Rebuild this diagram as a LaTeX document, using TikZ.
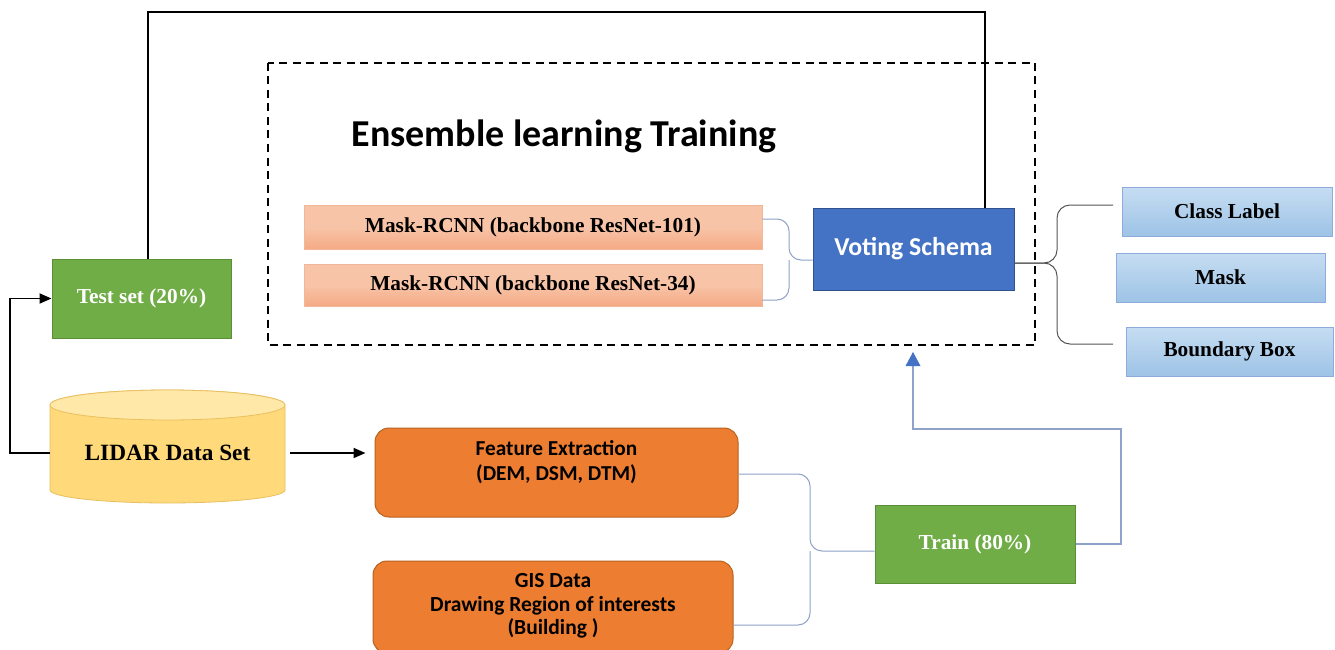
\documentclass[tikz,border=0pt]{standalone}
\usepackage{fontspec}
\setmainfont{Liberation Serif}
\newfontfamily\calfont{Carlito}
\usetikzlibrary{arrows.meta}
\definecolor{grn}{HTML}{70AD47}
\definecolor{grnb}{HTML}{5A8F38}
\definecolor{org}{HTML}{ED7D31}
\definecolor{orgb}{HTML}{B8621F}
\definecolor{vblue}{HTML}{4472C4}
\definecolor{vblueb}{HTML}{2F528F}
\definecolor{salt}{HTML}{F8C4A8}
\definecolor{salb}{HTML}{F4AA84}
\definecolor{salbd}{HTML}{F0B898}
\definecolor{lbt}{HTML}{C6DDF2}
\definecolor{lbb}{HTML}{9DC3E6}
\definecolor{lbbd}{HTML}{8FAADC}
\definecolor{cyl}{HTML}{FFD97A}
\definecolor{cyltop}{HTML}{FFE8A8}
\definecolor{cylb}{HTML}{E8C060}
\definecolor{conn}{HTML}{8FA2C8}
\definecolor{outc}{HTML}{555555}
\tikzset{
  x=1pt,y=-1pt,
  serifbold/.style={font=\fontsize{21.3}{24}\selectfont\bfseries},
  greenbox/.style={draw=grnb, line width=1pt, fill=grn, text=white, serifbold, minimum width=#1, minimum height=79pt, inner sep=0pt},
  maskbox/.style={draw=salbd, line width=0.6pt, top color=salt, bottom color=salb, middle color=salt, serifbold, minimum width=458pt, minimum height=#1, inner sep=0pt},
  outbox/.style={draw=lbbd, line width=0.8pt, top color=lbt, bottom color=lbb, serifbold, minimum height=49pt, inner sep=0pt, minimum width=#1},
  orangebox/.style={draw=orgb, line width=1pt, fill=org, rounded corners=14pt, minimum height=89pt, minimum width=#1, inner sep=0pt},
  bracket/.style={conn, line width=1pt, rounded corners=12pt},
  outline/.style={outc, line width=1pt, rounded corners=13pt},
  blackarrow/.style={black, line width=1.8pt, -{Triangle[length=12pt,width=10pt]}},
}
\begin{document}
\begin{tikzpicture}
\useasboundingbox (0,0) rectangle (1335,650);
\fill[white] (0,0) rectangle (1335,650);
\begin{scope}
\clip (0,0) rectangle (1335,650);
% dashed box
\draw[black, line width=1.6pt, dash pattern=on 8pt off 5.5pt] (268,63) rectangle (1035,345);
\node[anchor=center, font=\calfont\fontsize{38}{40}\selectfont\bfseries] (title) at (564,136) {Ensemble learning Training};

% mask boxes
\node[maskbox=44pt] (m1) at (533,227) {Mask-RCNN (backbone ResNet-101)};
\node[maskbox=42pt] (m2) at (533,285) {Mask-RCNN (backbone ResNet-34)};
% voting
\node[draw=vblueb, line width=1pt, fill=vblue, text=white, minimum width=201pt, minimum height=82pt, inner sep=0pt, font=\calfont\fontsize{25.8}{28}\selectfont\bfseries] (vote) at (913.5,249) {Voting Schema};

% outputs
\node[outbox=210pt] (cls) at (1227,211.5) {Class Label};
\node[outbox=209pt] (msk) at (1220.5,277.5) {Mask};
\node[outbox=207pt] (bb) at (1229.5,351.5) {Boundary Box};

% test set
\node[greenbox=179pt] (test) at (141.5,298.5) {Test set (20\%)};
% train
\node[greenbox=200pt, minimum height=78pt] (train) at (975,544) {Train (80\%)};

% cylinder
\fill[cyl, draw=cylb, line width=0.8pt] (50,405) -- (50,490) arc[start angle=180, end angle=360, x radius=117.5, y radius=-13] -- (285,405) arc[start angle=0, end angle=180, x radius=117.5, y radius=-15] -- cycle;
\fill[cyltop, draw=cylb, line width=0.8pt] (167.5,405) ellipse[x radius=117.5, y radius=15];
\node[minimum width=235pt, minimum height=90pt, inner sep=0pt, font=\fontsize{23.3}{26}\selectfont\bfseries] (lidar) at (167.5,453) {LIDAR Data Set};

% orange boxes
\node[orangebox=363pt] (fe) at (556.5,472.5) {};
\node[font=\calfont\fontsize{21.3}{25}\selectfont\bfseries, align=center, anchor=north] (fet) at (556.5,437) {Feature Extraction\\(DEM, DSM, DTM)};
\node[orangebox=360pt, minimum height=92pt] (gis) at (553,607) {};
\node[font=\calfont\fontsize{21.5}{23.5}\selectfont\bfseries, align=center, anchor=north] (gist) at (553,570) {GIS Data\\Drawing Region of interests\\(Building )};

% connectors
\coordinate (topline) at (566,12);
\draw[black, line width=1.8pt] ([xshift=6.5pt]test.north) |- (topline) -| ([xshift=71.5pt]vote.north);
\draw[blackarrow] (lidar.west) -- ++(-40,0) |- (test.west);
\draw[blackarrow, shorten >=9pt] ([xshift=5pt]lidar.east) -- (lidar.east -| fe.west);

% mask -> vote
\coordinate (mj) at (789,260);
\draw[bracket] ([yshift=8pt]m1.east) -| (mj) -- (mj -| vote.west);
\draw[bracket] ([yshift=-15pt]m2.east) -| (mj);

% vote -> outputs
\coordinate (vj) at (1057,263);
\coordinate (o1) at (1113,205);
\coordinate (o3) at (1113,344);
\draw[outline] ([yshift=-14pt]vote.east) -- (vj) |- (o1);
\draw[outline] ([yshift=-14pt]vote.east) -- (vj) |- (o3);

% fe, gis -> train
\coordinate (tj) at (810,551);
\draw[bracket] ([yshift=-1.5pt]fe.east) -| (tj) -- (tj -| train.west);
\draw[bracket] ([yshift=-18pt]gis.east) -| (tj);

% train -> ensemble
\coordinate (ens) at (913,352);
\draw[conn, line width=1.2pt] (train.east) -- (1121,544) |- (913,429) -- ([yshift=-1pt]ens);
\fill[vblue] (ens) -- ++(-7.5,14) -- ++(15,0) -- cycle;
\end{scope}
\end{tikzpicture}
\end{document}
